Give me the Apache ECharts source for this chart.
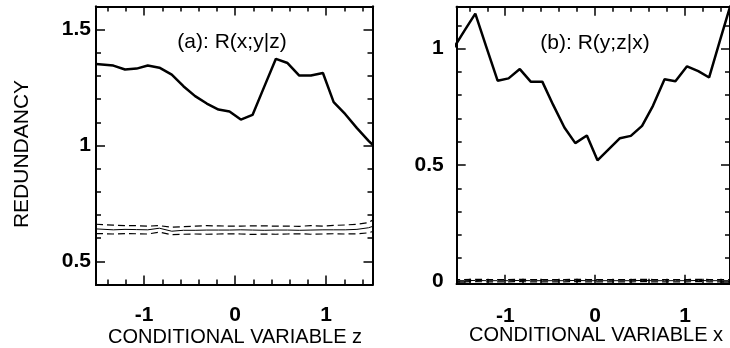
<!DOCTYPE html>
<html><head><meta charset="utf-8">
<script src="https://cdn.jsdelivr.net/npm/echarts@6/dist/echarts.min.js"></script>
<style>html,body{margin:0;padding:0;background:#fff}#c{width:730px;height:348px}</style>
</head><body><div id="c"></div>
<script>
// Panel (a): R(x;y|z)
const xA = [-1.53, -1.339, -1.211, -1.083, -0.961, -0.833, -0.697, -0.569, -0.440, -0.312, -0.183, -0.062, 0.062, 0.191, 0.319, 0.448, 0.576, 0.705, 0.833, 0.965, 1.083, 1.211, 1.339, 1.467, 1.52];
const yA = [1.352, 1.345, 1.328, 1.332, 1.345, 1.336, 1.306, 1.256, 1.213, 1.181, 1.155, 1.147, 1.112, 1.132, 1.253, 1.374, 1.356, 1.302, 1.302, 1.313, 1.187, 1.135, 1.075, 1.02, 1.0];
const surrMidA = [0.640, 0.636, 0.638, 0.637, 0.636, 0.643, 0.630, 0.634, 0.634, 0.635, 0.635, 0.635, 0.636, 0.635, 0.634, 0.635, 0.635, 0.634, 0.635, 0.636, 0.636, 0.636, 0.638, 0.645, 0.652];
const surrHiA = [0.660, 0.656, 0.654, 0.654, 0.652, 0.654, 0.647, 0.650, 0.652, 0.654, 0.653, 0.652, 0.652, 0.653, 0.653, 0.652, 0.652, 0.651, 0.654, 0.652, 0.655, 0.657, 0.660, 0.667, 0.680];
const surrLoA = [0.620, 0.618, 0.620, 0.619, 0.618, 0.626, 0.615, 0.617, 0.618, 0.617, 0.618, 0.619, 0.618, 0.616, 0.618, 0.617, 0.618, 0.619, 0.617, 0.618, 0.619, 0.618, 0.619, 0.623, 0.630];

// Panel (b): R(y;z|x)
const xB = [-1.58, -1.457, -1.333, -1.209, -1.085, -0.963, -0.838, -0.717, -0.588, -0.467, -0.342, -0.221, -0.092, 0.026, 0.147, 0.276, 0.397, 0.522, 0.643, 0.772, 0.893, 1.022, 1.147, 1.268, 1.392, 1.516];
const yB = [0.999, 1.075, 1.150, 1.005, 0.862, 0.872, 0.912, 0.858, 0.858, 0.758, 0.661, 0.594, 0.627, 0.520, 0.566, 0.615, 0.625, 0.668, 0.754, 0.868, 0.860, 0.924, 0.903, 0.876, 1.04, 1.2];
const surrMidB = [0.003, 0.003, 0.004, 0.003, 0.003, 0.003, 0.004, 0.003, 0.003, 0.003, 0.003, 0.004, 0.003, 0.003, 0.003, 0.003, 0.003, 0.004, 0.003, 0.003, 0.003, 0.003, 0.004, 0.003, 0.003, 0.003];
const surrHiB = [0.008, 0.008, 0.009, 0.008, 0.008, 0.008, 0.009, 0.008, 0.008, 0.008, 0.008, 0.009, 0.008, 0.008, 0.008, 0.008, 0.008, 0.009, 0.008, 0.008, 0.008, 0.008, 0.009, 0.008, 0.008, 0.008];
const surrLoB = [-0.002, -0.002, -0.001, -0.002, -0.002, -0.002, -0.001, -0.002, -0.002, -0.002, -0.002, -0.001, -0.002, -0.002, -0.002, -0.002, -0.002, -0.001, -0.002, -0.002, -0.002, -0.002, -0.001, -0.002, -0.002, -0.002];

// Tick labels / tick positions
const xMajor = [-1, 0, 1];
const xMinor = [-1.4, -1.2, -0.8, -0.6, -0.4, -0.2, 0.2, 0.4, 0.6, 0.8, 1.2, 1.4];
const yMajorA = [0.5, 1, 1.5];
const yMinorA = [0.6, 0.7, 0.8, 0.9, 1.1, 1.2, 1.3, 1.4];
const yMajorB = [0, 0.5, 1];
const yMinorB = [0.1, 0.2, 0.3, 0.4, 0.6, 0.7, 0.8, 0.9, 1.1];

const FONT = '"Liberation Sans", Arial, Helvetica, sans-serif';

function axis(grid, pos, min, max, ticks, len, labels, labelMargin) {
  return {
    type: 'value', gridIndex: grid, position: pos, min: min, max: max,
    axisLine: { show: true, onZero: false, lineStyle: { color: '#000', width: 2 } },
    axisTick: { show: true, inside: true, length: len, customValues: ticks, lineStyle: { color: '#000', width: 1.5 } },
    axisLabel: labels ? { show: true, customValues: labels, margin: labelMargin, color: '#000', fontFamily: FONT, fontWeight: 'bold', fontSize: 21 } : { show: false },
    splitLine: { show: false }
  };
}

const xRangeA = [-1.53, 1.51], yRangeA = [0.4, 1.6];
const xRangeB = [-1.54, 1.5], yRangeB = [-0.01, 1.18];

const xAxes = [
  axis(0, 'bottom', xRangeA[0], xRangeA[1], xMajor, 9, xMajor, 20),
  axis(0, 'bottom', xRangeA[0], xRangeA[1], xMinor, 5, null),
  axis(0, 'top', xRangeA[0], xRangeA[1], xMajor, 9, null),
  axis(0, 'top', xRangeA[0], xRangeA[1], xMinor, 5, null),
  axis(1, 'bottom', xRangeB[0], xRangeB[1], xMajor, 9, xMajor, 22),
  axis(1, 'bottom', xRangeB[0], xRangeB[1], xMinor, 5, null),
  axis(1, 'top', xRangeB[0], xRangeB[1], xMajor, 9, null),
  axis(1, 'top', xRangeB[0], xRangeB[1], xMinor, 5, null)
];
const yAxes = [
  axis(0, 'left', yRangeA[0], yRangeA[1], yMajorA, 9, yMajorA, 5),
  axis(0, 'left', yRangeA[0], yRangeA[1], yMinorA, 5, null),
  axis(0, 'right', yRangeA[0], yRangeA[1], yMajorA, 9, null),
  axis(0, 'right', yRangeA[0], yRangeA[1], yMinorA, 5, null),
  axis(1, 'left', yRangeB[0], yRangeB[1], yMajorB, 9, yMajorB, 13),
  axis(1, 'left', yRangeB[0], yRangeB[1], yMinorB, 5, null),
  axis(1, 'right', yRangeB[0], yRangeB[1], yMajorB, 9, null),
  axis(1, 'right', yRangeB[0], yRangeB[1], yMinorB, 5, null)
];

function pairs(xs, ys) { return xs.map((x, i) => [x, ys[i]]); }
function line(xi, yi, xs, ys, width, type, z) {
  return {
    type: 'line', xAxisIndex: xi, yAxisIndex: yi, data: pairs(xs, ys),
    showSymbol: false, symbol: 'none', clip: true, silent: true, z: z,
    lineStyle: { color: '#000', width: width, type: type }
  };
}

const option = {
  animation: false,
  backgroundColor: '#fff',
  grid: [
    { left: 96, top: 6.5, width: 276.5, height: 278, containLabel: false },
    { left: 456.7, top: 6.7, width: 276, height: 277, containLabel: false }
  ],
  xAxis: xAxes,
  yAxis: yAxes,
  series: [
    line(0, 0, xA, yA, 2.5, 'solid', 5),
    line(0, 0, xA, surrMidA, 1, 'solid', 4),
    line(0, 0, xA, surrHiA, 1.2, [7, 4], 4),
    line(0, 0, xA, surrLoA, 1.2, [7, 4], 4),
    line(4, 4, xB, yB, 2.5, 'solid', 5),
    line(4, 4, xB, surrMidB, 1, 'solid', 4),
    line(4, 4, xB, surrHiB, 1.2, [7, 4], 4),
    line(4, 4, xB, surrLoB, 1.2, [7, 4], 4)
  ],
  graphic: [
    { type: 'text', x: 232, y: 42, style: { text: '(a): R(x;y|z)', font: '21px ' + FONT, fill: '#000', textAlign: 'center', textVerticalAlign: 'middle' } },
    { type: 'text', x: 595, y: 43, style: { text: '(b): R(y;z|x)', font: '21px ' + FONT, fill: '#000', textAlign: 'center', textVerticalAlign: 'middle' } },
    { type: 'text', x: 235, y: 337, style: { text: 'CONDITIONAL VARIABLE z', font: '20px ' + FONT, fill: '#000', textAlign: 'center', textVerticalAlign: 'middle' } },
    { type: 'text', x: 596, y: 335, style: { text: 'CONDITIONAL VARIABLE x', font: '20px ' + FONT, fill: '#000', textAlign: 'center', textVerticalAlign: 'middle' } },
    { type: 'text', x: 22, y: 154, rotation: Math.PI / 2, style: { text: 'REDUNDANCY', font: '21px ' + FONT, fill: '#000', textAlign: 'center', textVerticalAlign: 'middle' } }
  ]
};

const chart = echarts.init(document.getElementById('c'), null, { renderer: 'canvas' });
chart.setOption(option);
</script>
</body></html>
